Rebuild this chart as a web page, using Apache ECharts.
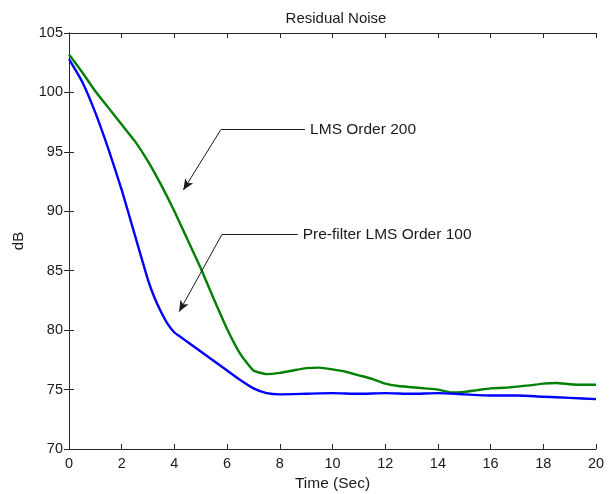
<!DOCTYPE html>
<html>
<head>
<meta charset="utf-8">
<script src="https://cdn.jsdelivr.net/npm/echarts@6/dist/echarts.min.js"></script>
<style>html,body{margin:0;padding:0;background:#fff}#c{width:614px;height:494px}</style>
</head>
<body>
<div id="c"></div>
<script>
// Time (Sec)
const timeGreen = [0,0.5,1,1.5,2,2.5,3,3.5,4,4.5,5,5.5,6,6.5,7,7.5,8,8.5,9,9.5,10,10.5,11,11.5,12,12.5,13,13.5,14,14.5,15,15.5,16,16.5,17,17.5,18,18.5,19,19.5,20];
const lmsOrder200 = [103.2,101.7,100.1,98.7,97.3,95.9,94.2,92.2,90.0,87.6,85.2,82.6,80.1,78.0,76.6,76.3,76.4,76.6,76.8,76.85,76.7,76.5,76.2,75.9,75.5,75.3,75.2,75.1,75.0,74.75,74.8,74.95,75.1,75.15,75.25,75.35,75.5,75.55,75.45,75.4,75.4];
const timeBlue = [0,0.5,1,1.5,2,2.5,3,3.25,3.5,3.75,4,4.25,4.5,5,5.5,6,6.5,7,7.5,8,9,10,11,12,13,14,15,16,17,18,19,20];
const prefilterLms100 = [102.8,100.9,98.3,95.2,91.8,88.0,84.2,82.7,81.5,80.5,79.8,79.4,79.0,78.2,77.4,76.6,75.8,75.1,74.7,74.6,74.65,74.7,74.65,74.7,74.65,74.7,74.6,74.5,74.5,74.4,74.3,74.2];
const xTicks = {min:0, max:20, interval:2};
const yTicks = {min:70, max:105, interval:5};
// annotation anchors in data units: [corner, end of horizontal, arrow tip]
const annotations = [
  {text:'LMS Order 200', corner:[5.76,96.86], end:[8.96,96.86], tip:[4.34,91.79]},
  {text:'Pre-filter LMS Order 100', corner:[5.80,88.03], end:[8.68,88.03], tip:[4.18,81.55]}
];

const font = 'Liberation Sans, Arial, sans-serif';
const axisCol = '#262626';
const textCol = '#1a1a1a';
function zip(a,b){return a.map((v,i)=>[v,b[i]]);}

const mlData = [];
annotations.forEach(a=>{
  mlData.push([{coord:a.corner, symbol:'none'},{coord:a.end, symbol:'none'}]);
  mlData.push([{coord:a.corner, symbol:'none'},{coord:a.tip, symbol:'arrow', symbolSize:[7,11]}]);
});

const baseAxis = {
  axisLine:{show:true, lineStyle:{color:axisCol, width:1}},
  axisTick:{show:true, inside:true, length:5, lineStyle:{color:axisCol}},
  splitLine:{show:false},
};
const chart = echarts.init(document.getElementById('c'), null, {renderer:'canvas'});
chart.setOption({
  animation:false,
  backgroundColor:'#fff',
  title:{text:'Residual Noise', left:331, top:6, textAlign:'center', textStyle:{fontFamily:font, fontSize:15, fontWeight:'normal', color:textCol}},
  grid:{left:69, right:18, top:33, bottom:45, containLabel:false, outerBoundsMode:'none'},
  xAxis:[
    Object.assign({}, baseAxis, {type:'value', min:xTicks.min, max:xTicks.max, interval:xTicks.interval, position:'bottom',
      name:'Time (Sec)', nameLocation:'middle', nameGap:24, nameTextStyle:{fontFamily:font, fontSize:15.5, color:textCol},
      axisLabel:{fontFamily:font, fontSize:14.5, color:textCol, margin:7}}),
    Object.assign({}, baseAxis, {type:'value', min:xTicks.min, max:xTicks.max, interval:xTicks.interval, position:'top', axisLabel:{show:false}})
  ],
  yAxis:[
    Object.assign({}, baseAxis, {type:'value', min:yTicks.min, max:yTicks.max, interval:yTicks.interval, position:'left',
      name:'dB', nameLocation:'middle', nameGap:43, nameTextStyle:{fontFamily:font, fontSize:15, color:textCol},
      axisLabel:{fontFamily:font, fontSize:14.5, color:textCol, margin:6}}),
    Object.assign({}, baseAxis, {type:'value', min:yTicks.min, max:yTicks.max, interval:yTicks.interval, position:'right', axisLabel:{show:false}})
  ],
  series:[
    {type:'line', name:'LMS Order 200', data:zip(timeGreen,lmsOrder200), showSymbol:false, smooth:0.15, lineStyle:{color:'#008000', width:2.4}, itemStyle:{color:'#008000'}, z:3},
    {type:'line', name:'Pre-filter LMS Order 100', data:zip(timeBlue,prefilterLms100), showSymbol:false, smooth:0.15, lineStyle:{color:'#0000ff', width:2.4}, itemStyle:{color:'#0000ff'}, z:4,
      markLine:{silent:true, animation:false, label:{show:false}, lineStyle:{color:'#1a1a1a', width:1, type:'solid'}, emphasis:{disabled:true}, data:mlData}}
  ]
});
const texts = annotations.map(a=>{
  const p = chart.convertToPixel({xAxisIndex:0, yAxisIndex:0}, a.end);
  return {type:'text', x:p[0]+5, y:p[1], silent:true, z:10,
    style:{text:a.text, fill:textCol, font:'15.5px ' + font, verticalAlign:'middle', textVerticalAlign:'middle'}};
});
chart.setOption({graphic:texts});
</script>
</body>
</html>
